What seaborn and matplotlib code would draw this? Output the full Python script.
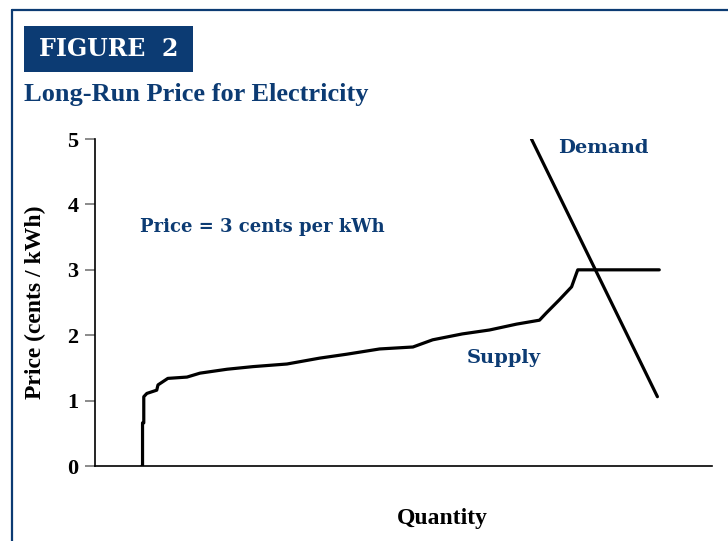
import numpy as np
import pandas as pd
import matplotlib
matplotlib.use("Agg")
import matplotlib.pyplot as plt
import seaborn as sns

# supply curve (quantity, price in cents/kWh)
supply_q = [7.6, 7.7, 7.7, 7.9, 7.9, 8.4, 10.0, 10.2, 11.8, 14.9, 17.0, 21.4, 25.6, 31.1,
            36.4, 40.8, 46.1, 51.5, 54.7, 59.5, 63.9, 68.3, 72.0, 73.1, 75.2, 77.2,
            78.0, 78.2, 91.4]
supply_p = [0.0, 0.0, 0.66, 0.66, 1.06, 1.11, 1.16, 1.24, 1.34, 1.36, 1.42, 1.48, 1.52, 1.56,
            1.65, 1.71, 1.79, 1.82, 1.93, 2.02, 2.08, 2.17, 2.23, 2.34, 2.54, 2.74,
            2.95, 3.0, 3.0]
# demand curve
demand_q = [70.7, 91.1]
demand_p = [5.0, 1.06]

y_ticks = [0, 1, 2, 3, 4, 5]

navy = "#0c3b73"

sns.set_style("white")
plt.rcParams["font.family"] = ["Liberation Serif", "DejaVu Serif"]

fig = plt.figure(figsize=(7.28, 5.41), dpi=100)
ax = fig.add_axes([0.1305, 0.1386, 0.848, 0.6044])

supply = pd.DataFrame({"q": supply_q, "p": supply_p})
demand = pd.DataFrame({"q": demand_q, "p": demand_p})
sns.lineplot(data=supply, x="q", y="p", sort=False, estimator=None, color="black", lw=2.3, ax=ax)
sns.lineplot(data=demand, x="q", y="p", sort=False, estimator=None, color="black", lw=2.3, ax=ax)

ax.set_xlim(0, 100)
ax.set_ylim(0, 5)
ax.set_yticks(y_ticks)
ax.set_yticklabels([str(t) for t in y_ticks], fontsize=16, fontweight="bold", color="black")
ax.set_xticks([])
ax.tick_params(axis="y", direction="out", length=7, width=1.2, color="#777777", pad=5, left=True)
sns.despine(ax=ax, top=True, right=True)
for s in ["left", "bottom"]:
    ax.spines[s].set_color("black")
    ax.spines[s].set_linewidth(1.2)
ax.set_xlabel("Quantity", fontsize=17, fontweight="bold", color="black")
ax.xaxis.set_label_coords(0.563, -0.128)
ax.set_ylabel("Price (cents / kWh)", fontsize=17, fontweight="bold", color="black")
ax.yaxis.set_label_coords(-0.080, 0.5)

lab = dict(color=navy, fontweight="bold", family=["DejaVu Serif"])
ax.text(7.3, 3.65, "Price = 3 cents per kWh", va="center", ha="left", fontsize=13, **lab)
ax.text(75.0, 4.87, "Demand", va="center", ha="left", fontsize=14, **lab)
ax.text(60.2, 1.65, "Supply", va="center", ha="left", fontsize=14, **lab)

# frame lines and header
fig.add_artist(plt.Line2D([12 / 728, 12 / 728], [0, 1 - 10 / 541], color=navy, lw=1.6))
fig.add_artist(plt.Line2D([12 / 728, 1], [1 - 10 / 541, 1 - 10 / 541], color=navy, lw=1.6))
fig.add_artist(plt.Rectangle((24 / 728, 1 - 72 / 541), 169 / 728, 46 / 541,
                             facecolor=navy, edgecolor="none", transform=fig.transFigure))
fig.text(109 / 728, 1 - 49 / 541, "FIGURE  2", color="white", fontsize=17, fontweight="bold",
         family=["DejaVu Serif"], ha="center", va="center")
fig.text(24 / 728, 1 - 95 / 541, "Long-Run Price for Electricity", color=navy, fontsize=19,
         fontweight="bold", ha="left", va="center")

fig.savefig("out.png", dpi=100)
